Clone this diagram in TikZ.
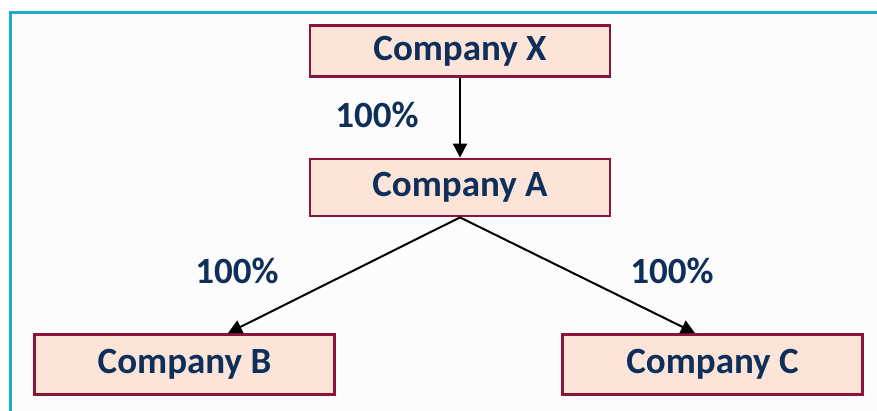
\documentclass[tikz,border=0pt]{standalone}
\usepackage{fontspec}
\setmainfont{Carlito}
\usetikzlibrary{arrows.meta}
\definecolor{frameblue}{HTML}{1CAACF}
\definecolor{boxfill}{HTML}{FCE4D8}
\definecolor{boxline}{HTML}{8A1538}
\definecolor{textnavy}{HTML}{0E2F5A}
\tikzset{
  company/.style={draw=boxline, fill=boxfill, line width=2.8pt,
    minimum width=300pt, minimum height=57pt, inner sep=0pt,
    text=textnavy, font=\fontsize{37}{42}\selectfont\bfseries},
  share/.style={text=textnavy, font=\fontsize{37}{42}\selectfont\bfseries, inner sep=0pt},
  owns/.style={draw=black, line width=2pt, -{Triangle[length=14pt,width=14pt]}}
}
\begin{document}
\begin{tikzpicture}[x=1pt,y=-1pt]
\useasboundingbox (0,0) rectangle (877,411);
\begin{scope}
\clip (0,0) rectangle (877,411);
\draw[frameblue, line width=3.2pt, fill=white!99!black] (10.5,12.5) rectangle (900,440);
\end{scope}
\node[company, minimum height=51pt] (X) at (460,51) {Company X};
\node[company] (A) at (460,187.5) {Company A};
\node[company, minimum height=60pt] (B) at (184.5,364.5) {Company B};
\node[company, minimum height=60pt] (C) at (712.5,364.5) {Company C};
\draw[owns] (X.south) -- (A.north);
\draw[owns] (A.south) -- (B.north -| 228,0);
\draw[owns] (A.south) -- (C.north -| 695,0);
\node[share] (lx) at (377,115) {100\%};
\node[share] (lb) at (237,271) {100\%};
\node[share] (lc) at (672,271) {100\%};
\end{tikzpicture}
\end{document}
